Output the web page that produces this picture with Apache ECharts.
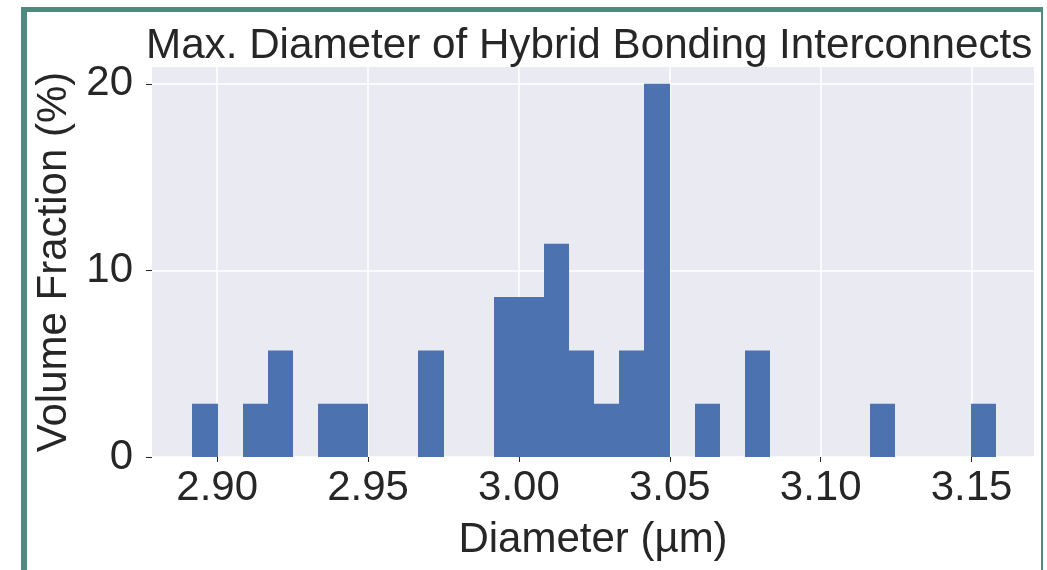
<!DOCTYPE html>
<html>
<head>
<meta charset="utf-8">
<title>Max. Diameter of Hybrid Bonding Interconnects</title>
<script src="https://cdn.jsdelivr.net/npm/echarts@6/dist/echarts.min.js"></script>
<style>
  html, body { margin: 0; padding: 0; background: #ffffff; }
  #chart { width: 1047px; height: 570px; }
</style>
</head>
<body>
<div id="chart"></div>
<script>
// histogram bins (lower edge, µm) and volume fraction (%)
const binWidth = 0.00832;
const binLow = [2.8918, 2.9084, 2.9168, 2.9334, 2.9417, 2.9667, 2.9916, 2.9999, 3.0083,
  3.0166, 3.0249, 3.0332, 3.0416, 3.0582, 3.0748, 3.1164, 3.1497];
const fraction = [2.86, 2.86, 5.71, 2.86, 2.86, 5.71, 8.57, 8.57, 11.43,
  5.71, 2.86, 5.71, 20.0, 2.86, 5.71, 2.86, 2.86];
const xTicks = [2.90, 2.95, 3.00, 3.05, 3.10, 3.15];
const yTicks = [0, 10, 20];

const textColor = "#262626";
const barColor = "#4c72b0";
const frameColor = "#4f8a81";
const fontFamily = "'Liberation Sans', Arial, sans-serif";

const chart = echarts.init(document.getElementById("chart"), null, { renderer: "canvas" });

const barData = binLow.map((lo, i) => [lo, lo + binWidth, fraction[i]]);

const option = {
  backgroundColor: "#ffffff",
  animation: false,
  title: {
    text: "Max. Diameter of Hybrid Bonding Interconnects",
    left: 141,
    top: 20,
    textStyle: { fontFamily, fontSize: 42.2, fontWeight: "normal", color: textColor }
  },
  // teal frame around the figure (no bottom edge)
  graphic: [
    { type: "rect", shape: { x: 21, y: 7, width: 6, height: 563 }, style: { fill: frameColor } },
    { type: "rect", shape: { x: 21, y: 7, width: 1022, height: 5 }, style: { fill: frameColor } },
    { type: "rect", shape: { x: 1041, y: 7, width: 2, height: 563 }, style: { fill: frameColor } }
  ],
  grid: {
    left: 152,
    right: 13,
    top: 67,
    bottom: 113,
    show: true,
    backgroundColor: "#eaeaf2",
    borderWidth: 0
  },
  xAxis: {
    type: "value",
    min: 2.8784,
    max: 3.1707,
    name: "Diameter (µm)",
    nameLocation: "middle",
    nameGap: 62,
    nameTextStyle: { fontFamily, fontSize: 42, color: textColor },
    axisLine: { show: false },
    axisTick: { show: true, customValues: xTicks, length: 5, lineStyle: { color: textColor, width: 1 } },
    axisLabel: {
      customValues: xTicks,
      margin: 10,
      fontFamily, fontSize: 42, color: textColor,
      formatter: v => v.toFixed(2)
    },
    splitLine: { show: true, lineStyle: { color: "#ffffff", width: 1.5 } }
  },
  yAxis: {
    type: "value",
    min: 0,
    max: 20.9,
    name: "Volume Fraction (%)",
    nameLocation: "middle",
    nameRotate: 90,
    nameGap: 71,
    nameTextStyle: { fontFamily, fontSize: 42, color: textColor },
    axisLine: { show: false },
    axisTick: { show: true, customValues: yTicks, length: 6, lineStyle: { color: textColor, width: 1 } },
    axisLabel: { customValues: yTicks, margin: 19, fontFamily, fontSize: 42, color: textColor },
    splitLine: { show: true, lineStyle: { color: "#ffffff", width: 1.5 } }
  },
  series: [
    {
      type: "custom",
      data: barData,
      encode: { x: [0, 1], y: 2 },
      renderItem: (params, api) => {
        const p0 = api.coord([api.value(0), api.value(2)]);
        const p1 = api.coord([api.value(1), 0]);
        // snap edges to whole pixels so neighbouring bins join without seams
        const x0 = Math.round(p0[0]);
        const x1 = Math.round(p1[0]);
        return {
          type: "rect",
          shape: { x: x0, y: p0[1], width: x1 - x0, height: p1[1] - p0[1] },
          style: { fill: barColor }
        };
      }
    }
  ]
};

chart.setOption(option);
</script>
</body>
</html>
